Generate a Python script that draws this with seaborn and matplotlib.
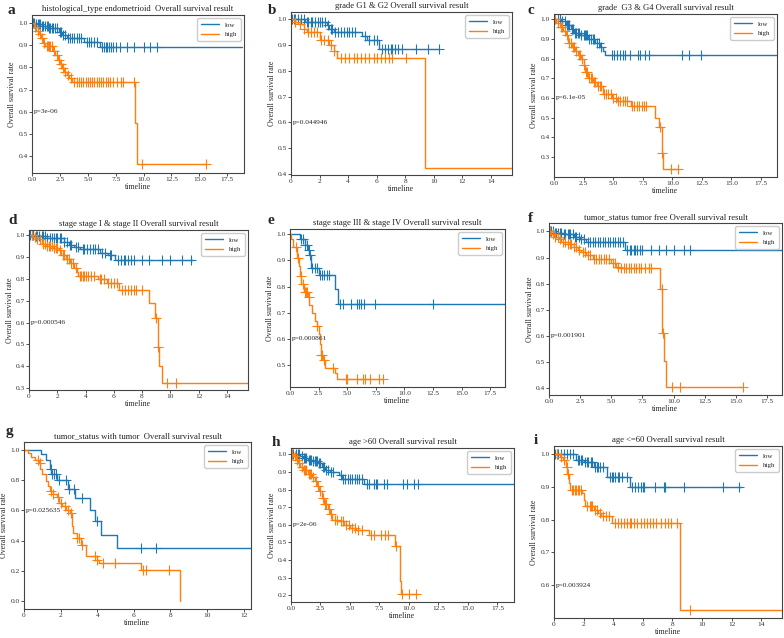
import numpy as np
import matplotlib
matplotlib.use("Agg")
import matplotlib.pyplot as plt
import matplotlib.transforms as mtransforms
import seaborn as sns

sns.set_theme(style="ticks")
plt.rcParams['font.family'] = ['Liberation Serif', 'DejaVu Serif']
plt.rcParams['axes.unicode_minus'] = False

LOW_C = '#1f77b4'
HIGH_C = '#ff7f0e'

# ---------- a: histological_type endometrioid ----------
a_low_t = [0, 0.3, 0.9, 1.5, 2.4, 2.7, 3.1, 4.7, 6.1]
a_low_s = [1.0, 0.995, 0.985, 0.975, 0.96, 0.945, 0.93, 0.915, 0.89]
a_low_end = 18.8
a_low_cens = [0.1, 0.2, 0.35, 0.5, 0.6, 0.75, 0.9, 1.0, 1.15, 1.3, 1.4, 1.55, 1.65, 1.8, 1.9, 2.05, 2.2,
              2.5, 2.6, 2.8, 2.95, 3.2, 3.4, 3.6, 3.8, 4.0, 4.2, 4.4, 4.9, 5.1, 5.3, 5.6, 5.8, 6.3, 6.45,
              6.6, 6.75, 6.9, 7.1, 7.3, 7.5, 7.9, 8.5, 9.1, 10.0, 10.6, 11.2]
a_high_t = [0, 0.2, 0.4, 0.6, 0.8, 1.0, 1.2, 1.9, 2.1, 2.3, 2.5, 2.7, 2.9, 3.1, 3.3, 3.6, 9.2, 9.4]
a_high_s = [1.0, 0.98, 0.965, 0.95, 0.93, 0.91, 0.895, 0.875, 0.855, 0.835, 0.815, 0.795, 0.78, 0.765,
            0.75, 0.735, 0.55, 0.365]
a_high_end = 15.6
a_high_cens = [0.3, 0.5, 0.7, 0.9, 1.1, 1.3, 1.4, 1.5, 1.6, 1.8, 2.0, 2.2, 2.4, 2.6, 2.8, 3.0, 3.2, 3.5,
               3.8, 4.0, 4.2, 4.4, 4.6, 4.8, 5.0, 5.2, 5.4, 5.6, 5.8, 6.0, 6.2, 6.4, 6.6, 6.8, 7.0, 7.3,
               7.6, 8.0, 8.2, 9.1, 9.9, 15.6]

# ---------- b: grade G1 & G2 ----------
b_low_t = [0, 1.0, 2.5, 2.7, 3.0, 5.0, 5.3, 6.2]
b_low_s = [1.0, 0.99, 0.975, 0.96, 0.95, 0.935, 0.92, 0.885]
b_low_end = 10.4
b_low_cens = [0.1, 0.2, 0.3, 0.5, 0.7, 0.9, 1.1, 1.2, 1.4, 1.5, 1.7, 1.9, 2.0, 2.2, 2.4, 2.6, 2.8, 2.9,
              3.1, 3.3, 3.5, 3.7, 3.9, 4.1, 4.3, 4.5, 5.2, 5.5, 5.8, 6.0, 6.4, 6.6, 6.8, 7.0, 7.1, 7.3,
              7.5, 7.8, 8.8, 9.6, 10.4]
b_high_t = [0, 0.2, 0.5, 0.9, 1.1, 2.0, 2.7, 3.0, 3.2, 9.4]
b_high_s = [1.0, 0.99, 0.98, 0.96, 0.95, 0.92, 0.9, 0.875, 0.85, 0.425]
b_high_end = 15.5
b_high_cens = [0.3, 0.6, 0.9, 1.2, 1.4, 1.6, 1.8, 2.1, 2.3, 2.6, 2.8, 3.0, 3.5, 3.8, 4.1, 4.4, 4.6, 4.9,
               5.2, 5.5, 5.8, 6.0, 6.3, 6.6, 6.9, 7.1, 8.1]

# ---------- c: grade G3 & G4 ----------
c_low_t = [0, 0.6, 1.0, 1.4, 1.7, 2.2, 2.9, 3.5, 3.9, 4.1, 4.3]
c_low_s = [1.0, 0.99, 0.97, 0.95, 0.93, 0.92, 0.90, 0.88, 0.86, 0.84, 0.82]
c_low_end = 18.8
c_low_cens = [0.3, 0.5, 0.7, 0.9, 1.1, 1.2, 1.3, 1.5, 1.6, 1.8, 1.9, 2.0, 2.1, 2.3, 2.5, 2.6, 2.7, 2.8,
              3.0, 3.1, 3.3, 3.4, 3.6, 3.8, 4.0, 4.9, 5.1, 5.3, 5.6, 5.8, 6.0, 6.4, 7.1, 7.3, 7.7, 8.0,
              10.8, 11.4, 12.4]
c_high_t = [0, 0.2, 0.5, 0.8, 1.0, 1.2, 1.5, 1.8, 2.0, 2.3, 2.5, 2.6, 2.9, 3.3, 3.6, 4.1, 4.9, 5.3,
            6.5, 8.5, 8.9, 9.1, 9.2]
c_high_s = [1.0, 0.98, 0.96, 0.94, 0.92, 0.88, 0.86, 0.84, 0.82, 0.80, 0.77, 0.73, 0.70, 0.68, 0.66,
            0.62, 0.60, 0.585, 0.56, 0.50, 0.45, 0.32, 0.24]
c_high_end = 10.5
c_high_cens = [0.1, 0.3, 0.6, 0.7, 0.9, 1.1, 1.3, 1.4, 1.6, 1.7, 1.9, 2.1, 2.2, 2.4, 2.5, 2.7, 2.8, 3.0,
               3.1, 3.2, 3.4, 3.5, 3.7, 3.9, 4.0, 4.2, 4.4, 4.6, 4.8, 5.0, 5.2, 5.4, 5.6, 5.8, 6.0, 6.2,
               6.6, 6.8, 7.0, 7.2, 7.4, 7.6, 7.8, 8.95, 9.12, 9.9, 10.5]

# ---------- d: stage I & II ----------
d_low_t = [0, 0.5, 1.3, 2.5, 2.8, 3.2, 3.6, 5.0, 5.6, 6.1]
d_low_s = [1.0, 0.995, 0.985, 0.97, 0.955, 0.945, 0.935, 0.92, 0.91, 0.885]
d_low_end = 11.6
d_low_cens = [0.1, 0.2, 0.3, 0.5, 0.6, 0.7, 0.9, 1.0, 1.1, 1.3, 1.5, 1.6, 1.8, 1.9, 2.0, 2.2, 2.3, 2.5,
              2.7, 2.9, 3.0, 3.3, 3.5, 3.8, 3.9, 4.1, 4.3, 4.5, 4.7, 4.9, 5.2, 5.4, 5.7, 5.8, 6.3, 6.5,
              6.7, 6.8, 7.0, 7.2, 7.4, 8.0, 8.5, 9.4, 10.0, 10.8, 11.5]
d_high_t = [0, 0.3, 0.6, 0.9, 1.2, 1.7, 2.1, 2.3, 2.6, 2.9, 3.2, 3.4, 3.5, 4.9, 5.5, 6.4, 8.5, 8.9, 9.1,
            9.2, 9.4]
d_high_s = [1.0, 0.99, 0.98, 0.96, 0.95, 0.94, 0.93, 0.91, 0.89, 0.87, 0.85, 0.83, 0.815, 0.80, 0.78,
            0.75, 0.69, 0.62, 0.49, 0.40, 0.325]
d_high_end = 15.5
d_high_cens = [0.2, 0.4, 0.6, 0.8, 1.0, 1.1, 1.3, 1.4, 1.5, 1.6, 1.8, 1.9, 2.0, 2.2, 2.4, 2.5, 2.7, 2.8,
               3.0, 3.1, 3.3, 3.6, 3.7, 3.8, 3.9, 4.0, 4.2, 4.4, 4.6, 5.0, 5.1, 5.3, 5.6, 5.8, 6.0, 6.2,
               6.6, 6.8, 7.0, 7.2, 7.4, 7.6, 8.0, 9.0, 9.15, 9.8, 10.4]

# ---------- e: stage III & IV ----------
e_low_t = [0, 0.9, 1.3, 1.6, 1.7, 1.8, 2.5, 3.9, 4.2]
e_low_s = [1.0, 0.98, 0.96, 0.94, 0.92, 0.87, 0.845, 0.79, 0.735]
e_low_end = 18.8
e_low_cens = [0.95, 1.1, 1.35, 1.5, 1.65, 1.75, 1.9, 2.2, 2.4, 2.6, 2.8, 3.0, 3.2, 3.4, 4.4, 4.6, 5.3,
              5.9, 6.0, 6.2, 6.5, 7.4, 12.5]
e_high_t = [0, 0.1, 0.3, 0.6, 0.8, 0.9, 1.0, 1.2, 1.6, 1.7, 1.9, 2.2, 2.4, 2.5, 2.6, 2.7, 2.9, 3.1,
            3.9, 4.1]
e_high_s = [1.0, 0.98, 0.95, 0.91, 0.88, 0.84, 0.81, 0.78, 0.76, 0.73, 0.70, 0.67, 0.65, 0.62, 0.58,
            0.54, 0.52, 0.49, 0.47, 0.445]
e_high_end = 8.1
e_high_cens = [0.5, 0.7, 0.95, 1.1, 1.3, 1.4, 1.5, 1.65, 2.4, 2.7, 2.8, 3.0, 3.8, 4.9, 5.0, 5.9, 6.4,
               6.6, 7.0, 7.8, 8.1]

# ---------- f: tumor free ----------
f_low_t = [0, 0.5, 1.2, 2.0, 2.5, 3.0, 6.1]
f_low_s = [1.0, 0.995, 0.99, 0.98, 0.97, 0.96, 0.93]
f_low_end = 18.8
f_low_cens = [0.1, 0.2, 0.3, 0.5, 0.6, 0.7, 0.9, 1.0, 1.2, 1.3, 1.5, 1.6, 1.7, 1.9, 2.1, 2.2, 2.4, 2.6,
              2.8, 3.1, 3.3, 3.5, 3.7, 3.9, 4.1, 4.3, 4.5, 4.7, 4.9, 5.1, 5.3, 5.5, 5.7, 5.9, 6.3, 6.5,
              6.6, 6.8, 6.9, 7.1, 7.3, 7.5, 8.2, 8.8, 9.4, 10.0, 10.8, 11.3]
f_high_t = [0, 0.2, 0.4, 0.8, 1.0, 1.5, 2.0, 2.3, 2.6, 3.0, 3.5, 5.0, 5.4, 5.7, 8.9, 9.1, 9.2, 9.4]
f_high_s = [1.0, 0.99, 0.98, 0.97, 0.96, 0.95, 0.94, 0.93, 0.92, 0.91, 0.895, 0.88, 0.865, 0.86, 0.78,
            0.61, 0.505, 0.405]
f_high_end = 15.6
f_high_cens = [0.1, 0.3, 0.5, 0.7, 0.9, 1.1, 1.3, 1.5, 1.7, 1.8, 2.0, 2.2, 2.4, 2.7, 2.9, 3.1, 3.3, 3.6,
               3.8, 4.0, 4.2, 4.4, 4.6, 4.8, 5.1, 5.3, 5.5, 5.8, 6.0, 6.2, 6.4, 6.6, 6.8, 7.0, 7.2, 7.4,
               7.7, 8.0, 8.2, 9.05, 9.15, 9.9, 10.5, 15.6]

# ---------- g: with tumor ----------
g_low_t = [0, 0.95, 1.2, 1.4, 1.5, 1.8, 2.4, 2.8, 3.6, 3.9, 4.2, 5.1]
g_low_s = [1.0, 0.97, 0.93, 0.87, 0.84, 0.80, 0.74, 0.68, 0.60, 0.53, 0.44, 0.35]
g_low_end = 12.4
g_low_cens = [1.45, 1.55, 1.65, 1.75, 1.9, 2.3, 2.45, 2.75, 3.15, 4.0, 6.4, 7.2]
g_high_t = [0, 0.2, 0.4, 0.6, 0.8, 0.9, 1.0, 1.2, 1.3, 1.4, 1.6, 1.8, 1.9, 2.1, 2.3, 2.5, 2.6, 2.7,
            2.9, 3.1, 3.4, 4.0, 4.1, 6.4, 8.5]
g_high_s = [1.0, 0.98, 0.95, 0.93, 0.91, 0.87, 0.84, 0.79, 0.76, 0.73, 0.71, 0.69, 0.65, 0.63, 0.60,
            0.58, 0.50, 0.45, 0.42, 0.37, 0.30, 0.27, 0.25, 0.21, 0.0]
g_high_end = 8.5
g_high_cens = [0.75, 0.85, 1.5, 1.6, 1.85, 2.0, 2.25, 2.4, 2.55, 2.9, 3.0, 3.15, 3.9, 4.0, 4.3, 4.95,
               6.5, 6.65, 7.9]

# ---------- h: age >60 ----------
h_low_t = [0, 0.8, 1.0, 1.4, 1.8, 2.3, 2.6, 2.9, 3.3, 4.1, 4.3, 6.2]
h_low_s = [1.0, 0.99, 0.98, 0.97, 0.96, 0.95, 0.93, 0.91, 0.90, 0.88, 0.86, 0.83]
h_low_end = 18.9
h_low_cens = [0.1, 0.2, 0.4, 0.6, 0.7, 0.9, 1.1, 1.2, 1.3, 1.5, 1.6, 1.7, 1.9, 2.0, 2.1, 2.2, 2.4, 2.5,
              2.7, 2.8, 3.0, 3.1, 3.4, 3.6, 4.2, 4.4, 4.6, 4.8, 5.0, 5.2, 5.4, 5.6, 5.8, 6.0, 6.4, 6.6,
              7.0, 7.2, 7.3, 7.9, 8.1, 9.5, 9.8, 10.4, 10.8]
h_high_t = [0, 0.2, 0.4, 0.6, 0.8, 1.0, 1.4, 1.8, 2.0, 2.2, 2.4, 2.6, 2.8, 3.1, 3.3, 3.5, 4.0, 4.5,
            5.0, 5.5, 6.6, 8.8, 9.2, 9.3]
h_high_s = [1.0, 0.99, 0.97, 0.95, 0.93, 0.91, 0.89, 0.87, 0.85, 0.82, 0.79, 0.75, 0.72, 0.69, 0.66,
            0.63, 0.62, 0.60, 0.58, 0.57, 0.54, 0.48, 0.28, 0.205]
h_high_end = 10.7
h_high_cens = [0.1, 0.3, 0.5, 0.7, 0.9, 1.1, 1.2, 1.3, 1.5, 1.6, 1.7, 1.9, 2.1, 2.3, 2.5, 2.7, 2.9,
               3.0, 3.2, 3.4, 3.7, 3.9, 4.2, 4.4, 4.7, 4.9, 5.2, 5.4, 5.7, 6.0, 6.8, 7.0, 7.6, 8.0, 8.2,
               8.9, 9.4, 10.0, 10.6]

# ---------- i: age <=60 ----------
i_low_t = [0, 1.5, 2.0, 2.7, 3.6, 5.1]
i_low_s = [1.0, 0.98, 0.975, 0.96, 0.93, 0.90]
i_low_end = 12.6
i_low_cens = [0.1, 0.2, 0.3, 0.5, 0.7, 0.9, 1.1, 1.3, 1.6, 1.7, 1.8, 1.9, 2.1, 2.2, 2.3, 2.5, 2.6, 2.8,
              2.9, 3.0, 3.1, 3.3, 3.8, 3.9, 4.0, 4.1, 4.3, 4.4, 4.6, 4.9, 5.3, 5.5, 5.7, 5.9, 6.0, 6.1,
              6.8, 7.4, 7.5, 8.8, 11.4, 12.5]
i_high_t = [0, 0.4, 0.6, 0.8, 0.9, 1.0, 1.1, 1.9, 2.0, 2.1, 2.7, 3.0, 3.2, 3.9, 8.5]
i_high_s = [1.0, 0.99, 0.98, 0.96, 0.94, 0.91, 0.89, 0.88, 0.86, 0.84, 0.83, 0.82, 0.81, 0.79, 0.525]
i_high_end = 15.4
i_high_cens = [0.2, 0.5, 0.7, 0.85, 0.95, 1.2, 1.3, 1.4, 1.5, 1.6, 1.7, 1.8, 2.2, 2.4, 2.5, 2.6, 2.8,
               2.9, 3.1, 3.3, 3.5, 3.7, 4.1, 4.3, 4.5, 4.7, 4.9, 5.1, 5.2, 5.4, 5.6, 5.9, 6.1, 6.3, 6.5,
               6.7, 6.9, 7.2, 7.5, 7.7, 7.9, 8.3, 9.2]

titles = ['histological_type endometrioid  Overall survival result',
          'grade G1 & G2 Overall survival result',
          'grade  G3 & G4 Overall survival result',
          'stage stage I & stage II Overall survival result',
          'stage stage III & stage IV Overall survival result',
          'tumor_status tumor free Overall survival result',
          'tumor_status with tumor  Overall survival result',
          'age >60 Overall survival result',
          'age <=60 Overall survival result']
pvals = ['p=3e-06', 'p=0.044946', 'p=6.1e-05', 'p=0.000546', 'p=0.000861',
         'p=0.001901', 'p=0.025635', 'p=2e-06', 'p=0.003924']
letters = list('abcdefghi')

low_curves = [(a_low_t, a_low_s, a_low_end, a_low_cens), (b_low_t, b_low_s, b_low_end, b_low_cens),
              (c_low_t, c_low_s, c_low_end, c_low_cens), (d_low_t, d_low_s, d_low_end, d_low_cens),
              (e_low_t, e_low_s, e_low_end, e_low_cens), (f_low_t, f_low_s, f_low_end, f_low_cens),
              (g_low_t, g_low_s, g_low_end, g_low_cens), (h_low_t, h_low_s, h_low_end, h_low_cens),
              (i_low_t, i_low_s, i_low_end, i_low_cens)]
high_curves = [(a_high_t, a_high_s, a_high_end, a_high_cens), (b_high_t, b_high_s, b_high_end, b_high_cens),
               (c_high_t, c_high_s, c_high_end, c_high_cens), (d_high_t, d_high_s, d_high_end, d_high_cens),
               (e_high_t, e_high_s, e_high_end, e_high_cens), (f_high_t, f_high_s, f_high_end, f_high_cens),
               (g_high_t, g_high_s, g_high_end, g_high_cens), (h_high_t, h_high_s, h_high_end, h_high_cens),
               (i_high_t, i_high_s, i_high_end, i_high_cens)]

# layout (pixels: left, top, right, bottom), limits and ticks
W, H = 784, 638
boxes = [(32, 15, 244, 173), (291, 12, 512, 175), (554, 14, 777, 177),
         (29, 230, 248, 390), (290, 229, 505, 387), (549, 223, 782, 395),
         (24, 442, 251, 609), (291, 448, 514, 602), (554, 446, 782, 618)]
xlims = [(0, 19.0), (0, 15.5), (0, 18.85), (0, 15.5), (0, 18.8), (0, 18.7), (0, 12.4), (0, 18.9), (0, 15.4)]
ylims = [(0.325, 1.035), (0.397, 1.027), (0.198, 1.027), (0.292, 1.023), (0.416, 1.02),
         (0.374, 1.032), (-0.05, 1.05), (0.162, 1.036), (0.50, 1.024)]
xticks = [np.arange(0, 18, 2.5), np.arange(0, 15, 2), np.arange(0, 18, 2.5),
          np.arange(0, 15, 2), np.arange(0, 18, 2.5), np.arange(0, 18, 2.5),
          np.arange(0, 13, 2), np.arange(0, 18, 2.5), np.arange(0, 15, 2)]
yticks = [np.arange(0.4, 1.01, 0.1), np.arange(0.4, 1.01, 0.1), np.arange(0.3, 1.01, 0.1),
          np.arange(0.3, 1.01, 0.1), np.arange(0.5, 1.01, 0.1), np.arange(0.4, 1.01, 0.1),
          np.arange(0.0, 1.01, 0.2), np.arange(0.2, 1.01, 0.1), np.arange(0.6, 1.01, 0.1)]
letter_pos = [(8, 10), (268, 10), (528, 10), (8, 220), (268, 220), (528, 218), (6, 432), (272, 442), (534, 440)]

fig = plt.figure(figsize=(W / 100, H / 100), dpi=100)


def draw_curve(ax, t, s, end, cens, color, label):
    t = list(t)
    s = list(s)
    if end > t[-1]:
        t = t + [end]
        s = s + [s[-1]]
    sns.lineplot(x=t, y=s, drawstyle='steps-post', estimator=None, sort=False,
                 color=color, lw=1.0, label=label, ax=ax)
    idx = np.searchsorted(np.array(t), np.array(cens), side='right') - 1
    cy = np.array(s)[idx]
    ax.plot(cens, cy, linestyle='none', marker='+', ms=7, mew=0.8, color=color)


for k in range(9):
    l, tp, r, b = boxes[k]
    ax = fig.add_axes([l / W, 1 - b / H, (r - l) / W, (b - tp) / H])
    draw_curve(ax, *low_curves[k], LOW_C, 'low')
    draw_curve(ax, *high_curves[k], HIGH_C, 'high')
    ax.set_xlim(*xlims[k])
    ax.set_ylim(*ylims[k])
    ax.set_xticks(xticks[k])
    ax.set_yticks(yticks[k])
    ax.tick_params(labelsize=5.3, length=2, width=0.6, pad=1, colors='#333333')
    for sp in ax.spines.values():
        sp.set_linewidth(0.8)
        sp.set_color('#444444')
    ax.set_title(titles[k], fontsize=6.2, pad=3, color='#222222')
    ax.set_xlabel('timeline', fontsize=5.7, labelpad=0.5)
    ax.set_ylabel('Overall survival rate', fontsize=5.7, labelpad=1.5)
    trans = mtransforms.blended_transform_factory(ax.transAxes, ax.transData)
    ax.text(0.01, 0.6, pvals[k], transform=trans, fontsize=5.3, va='center', ha='left')
    ax.legend(loc='upper right', fontsize=5, handlelength=2.6, borderpad=0.5,
              labelspacing=0.5, frameon=True, fancybox=True, framealpha=1)
    fig.text(letter_pos[k][0] / W, 1 - letter_pos[k][1] / H, letters[k],
             fontsize=11, fontweight='bold', va='center', ha='left')

fig.savefig('out.png', dpi=100)
